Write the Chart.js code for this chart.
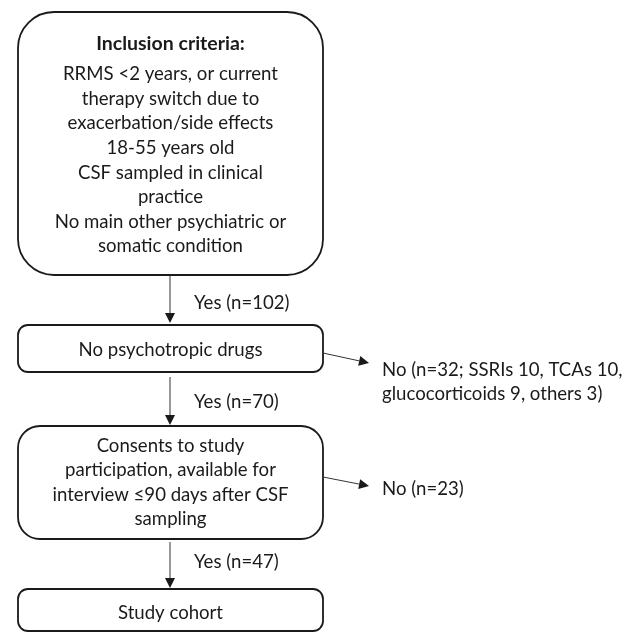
<!DOCTYPE html>
<html>
<head>
<meta charset="utf-8">
<script src="https://cdn.jsdelivr.net/npm/chart.js@4"></script>
<style>
  html,body{margin:0;padding:0;background:#fff;}
  #wrap{width:638px;height:633px;}
</style>
</head>
<body>
<div id="wrap"><canvas id="flow" width="638" height="633"></canvas></div>
<script>
// Datos del diagrama (textos de cada caja y flechas)
const boxTitles = ['Inclusion criteria:', '', '', ''];
const boxLines = [
  ['RRMS <2 years, or current','therapy switch due to','exacerbation/side effects','18-55 years old','CSF sampled in clinical','practice','No main other psychiatric or','somatic condition'],
  ['No psychotropic drugs'],
  ['Consents to study','participation, available for','interview \u226490 days after CSF','sampling'],
  ['Study cohort']
];
const yesLabels = ['Yes (n=102)', 'Yes (n=70)', 'Yes (n=47)'];
const noLabels = [
  ['No (n=32; SSRIs 10, TCAs 10,','glucocorticoids 9, others 3)'],
  [],
  ['No (n=23)']
];

// Layout (coordenadas en unidades de eje, 0..638 x 0..633)
const boxLayout = [
  {x0:18, x1:323, y0:12,  y1:275, r:36, textTop:44, lh:24.6},
  {x0:18, x1:323, y0:325, y1:372, r:10, textTop:350, lh:24.6},
  {x0:18, x1:323, y0:426, y1:539, r:22, textTop:446, lh:24.4},
  {x0:18, x1:323, y0:589, y1:631, r:10, textTop:613, lh:24.6}
];
const downArrows = [
  {x:170, y0:275, y1:323, ly:303},
  {x:170, y0:377, y1:425, ly:402},
  {x:170, y0:542, y1:588, ly:562}
];
const sideArrows = [
  {x0:323, y0:353, x1:369, y1:363, tx:382, ty:370},
  null,
  {x0:323, y0:477, x1:369, y1:486, tx:382, ty:489}
];

const FONT = 'Lato, "Open Sans", sans-serif';
const INK = '#1a1a1a';

function rrect(ctx, x, y, w, h, r){
  ctx.beginPath();
  ctx.moveTo(x+r, y);
  ctx.lineTo(x+w-r, y);
  ctx.arcTo(x+w, y, x+w, y+r, r);
  ctx.lineTo(x+w, y+h-r);
  ctx.arcTo(x+w, y+h, x+w-r, y+h, r);
  ctx.lineTo(x+r, y+h);
  ctx.arcTo(x, y+h, x, y+h-r, r);
  ctx.lineTo(x, y+r);
  ctx.arcTo(x, y, x+r, y, r);
  ctx.closePath();
}

function arrow(ctx, x0, y0, x1, y1){
  const a = Math.atan2(y1-y0, x1-x0), L = 10, W = 5;
  ctx.beginPath();
  ctx.moveTo(x0, y0);
  ctx.lineTo(x1 - L*Math.cos(a), y1 - L*Math.sin(a));
  ctx.stroke();
  ctx.beginPath();
  ctx.moveTo(x1, y1);
  ctx.lineTo(x1 - L*Math.cos(a) - W*Math.sin(a), y1 - L*Math.sin(a) + W*Math.cos(a));
  ctx.lineTo(x1 - L*Math.cos(a) + W*Math.sin(a), y1 - L*Math.sin(a) - W*Math.cos(a));
  ctx.closePath();
  ctx.fill();
}

const flowPlugin = {
  id: 'flow',
  afterDatasetsDraw(chart){
    const {ctx, scales:{x, y}} = chart;
    const px = v => x.getPixelForValue(v), py = v => y.getPixelForValue(v);
    ctx.save();
    ctx.textAlign = 'center';
    ctx.textBaseline = 'middle';
    // cajas
    boxLayout.forEach((b, i) => {
      ctx.strokeStyle = INK; ctx.lineWidth = 1.8;
      rrect(ctx, px(b.x0), py(b.y0), px(b.x1)-px(b.x0), py(b.y1)-py(b.y0), b.r);
      ctx.stroke();
      ctx.fillStyle = INK;
      const cx = px((b.x0+b.x1)/2);
      let yy = b.textTop;
      if (boxTitles[i]){
        ctx.font = 'bold 19.5px ' + FONT;
        ctx.fillText(boxTitles[i], cx, py(yy));
        yy += b.lh + 5.5;
      }
      ctx.font = '18.6px ' + FONT;
      boxLines[i].forEach(t => { ctx.fillText(t, cx, py(yy)); yy += b.lh; });
    });
    // flechas verticales + etiquetas Yes
    ctx.strokeStyle = '#333'; ctx.fillStyle = INK; ctx.lineWidth = 1;
    downArrows.forEach((a, i) => {
      arrow(ctx, px(a.x), py(a.y0), px(a.x), py(a.y1));
      ctx.textAlign = 'left';
      ctx.font = '18.6px ' + FONT;
      ctx.fillText(yesLabels[i], px(194), py(a.ly));
    });
    // flechas laterales + etiquetas No
    sideArrows.forEach((a, i) => {
      if (!a) return;
      arrow(ctx, px(a.x0), py(a.y0), px(a.x1), py(a.y1));
      ctx.textAlign = 'left';
      noLabels[i].forEach((t, k) => ctx.fillText(t, px(a.tx), py(a.ty + k*24)));
    });
    ctx.restore();
  }
};

new Chart(document.getElementById('flow'), {
  type: 'scatter',
  data: { datasets: [{ data: [], pointRadius: 0 }] },
  options: {
    responsive: false,
    animation: false,
    layout: { padding: 0 },
    plugins: { legend: { display: false }, tooltip: { enabled: false } },
    scales: {
      x: { type: 'linear', min: 0, max: 638, display: false },
      y: { type: 'linear', min: 0, max: 633, reverse: true, display: false }
    }
  },
  plugins: [flowPlugin]
});
</script>
</body>
</html>
